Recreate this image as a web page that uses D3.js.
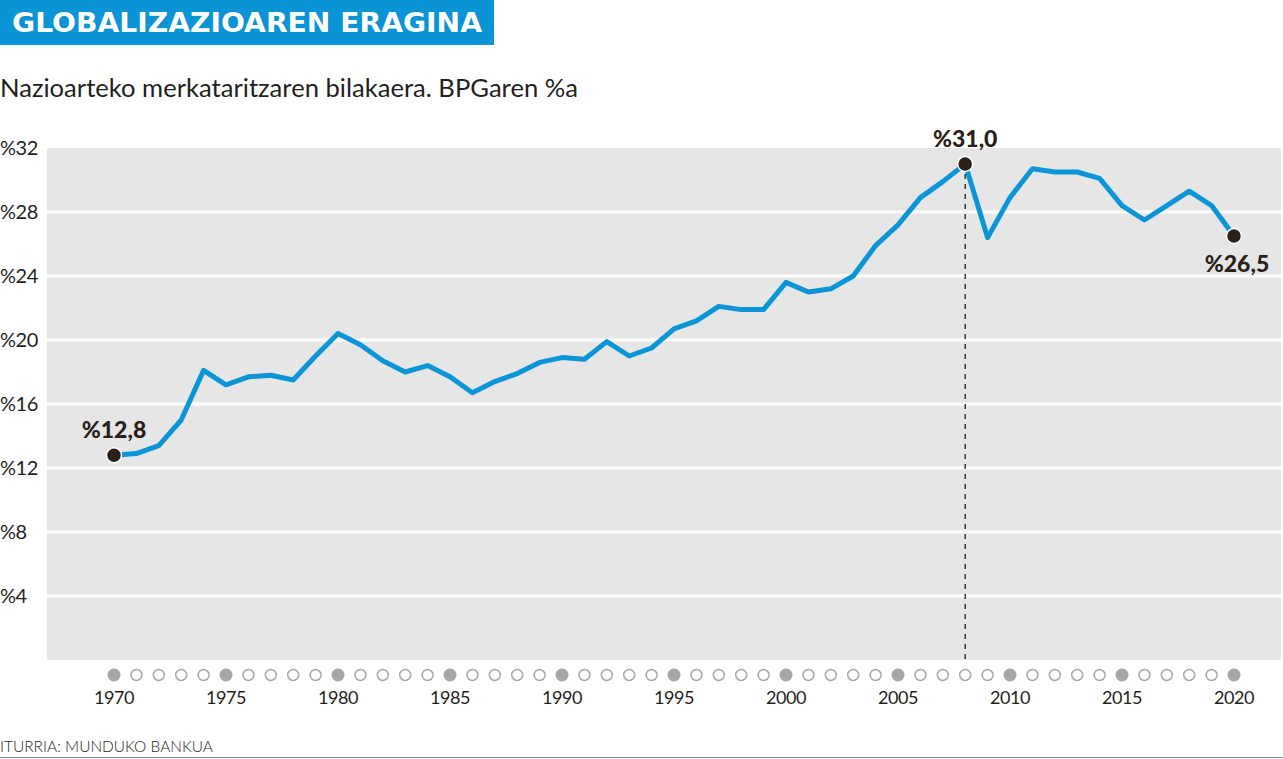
<!DOCTYPE html>
<html>
<head>
<meta charset="utf-8">
<script src="https://cdn.jsdelivr.net/npm/d3@7"></script>
<style>
  body { margin: 0; background: #fff; }
  svg { display: block; font-family: Lato, "Open Sans", sans-serif; }
</style>
</head>
<body>
<div class="canva"></div>
<script>
// data
const years = d3.range(1970, 2021);
const tradeShare = [
  12.8, 12.9, 13.4, 15.0, 18.1, 17.2, 17.7, 17.8, 17.5, 19.0,
  20.4, 19.7, 18.7, 18.0, 18.4, 17.7, 16.7, 17.4, 17.9, 18.6,
  18.9, 18.8, 19.9, 19.0, 19.5, 20.7, 21.2, 22.1, 21.9, 21.9,
  23.6, 23.0, 23.2, 24.0, 25.9, 27.2, 28.9, 29.9, 31.0, 26.4,
  28.9, 30.7, 30.5, 30.5, 30.1, 28.4, 27.5, 28.4, 29.3, 28.4,
  26.5
];
const yTicks = [4, 8, 12, 16, 20, 24, 28, 32];
const labelYears = [1970, 1975, 1980, 1985, 1990, 1995, 2000, 2005, 2010, 2015, 2020];
const highlights = [
  { year: 1970, label: '%12,8', pos: 'above' },
  { year: 2008, label: '%31,0', pos: 'above' },
  { year: 2020, label: '%26,5', pos: 'below' }
];

const width = 1283, height = 759;

const svg = d3.select('.canva').append('svg')
  .attr('width', width)
  .attr('height', height);

// header
svg.append('rect')
  .attr('x', 0).attr('y', 0)
  .attr('width', 494).attr('height', 45)
  .attr('fill', '#0a93d5');

svg.append('text')
  .attr('x', 12).attr('y', 32)
  .attr('fill', '#fff')
  .attr('font-family', '"DejaVu Sans", sans-serif')
  .attr('font-size', 26)
  .attr('font-weight', 700)
  .attr('textLength', 470)
  .attr('lengthAdjust', 'spacingAndGlyphs')
  .text('GLOBALIZAZIOAREN ERAGINA');

svg.append('text')
  .attr('x', 0).attr('y', 97)
  .attr('fill', '#231f20')
  .attr('font-size', 25)
  .attr('font-weight', 400)
  .attr('textLength', 578)
  .attr('lengthAdjust', 'spacingAndGlyphs')
  .text('Nazioarteko merkataritzaren bilakaera. BPGaren %a');

// plot area
const plot = { left: 47, right: 1281, top: 148, bottom: 660 };

const x = d3.scaleLinear()
  .domain([1970, 2020])
  .range([114, 1234]);

const y = d3.scaleLinear()
  .domain([0, 32])
  .range([plot.bottom, plot.top]);

svg.append('rect')
  .attr('x', plot.left).attr('y', plot.top)
  .attr('width', plot.right - plot.left)
  .attr('height', plot.bottom - plot.top)
  .attr('fill', '#e6e6e6');

const grid = svg.append('g');
grid.selectAll('line')
  .data(yTicks.filter(d => d < 32))
  .enter().append('line')
  .attr('x1', plot.left).attr('x2', plot.right)
  .attr('y1', d => y(d)).attr('y2', d => y(d))
  .attr('stroke', '#fff')
  .attr('stroke-width', 3);

// y labels
svg.append('g').selectAll('text')
  .data(yTicks)
  .enter().append('text')
  .attr('x', 0)
  .attr('y', d => y(d) + 7)
  .attr('fill', '#231f20')
  .attr('font-size', 20)
  .attr('font-weight', 400)
  .attr('letter-spacing', -0.5)
  .text(d => '%' + d);

// year dots
const dots = svg.append('g');
dots.selectAll('circle')
  .data(years)
  .enter().append('circle')
  .attr('cx', d => x(d))
  .attr('cy', 675)
  .attr('r', d => d % 5 === 0 ? 6.5 : 5.5)
  .attr('fill', d => d % 5 === 0 ? '#a9a5a4' : '#fff')
  .attr('stroke', '#a9a5a4')
  .attr('stroke-width', d => d % 5 === 0 ? 0 : 1.5);

svg.append('g').selectAll('text')
  .data(labelYears)
  .enter().append('text')
  .attr('x', d => x(d))
  .attr('y', 704)
  .attr('text-anchor', 'middle')
  .attr('fill', '#231f20')
  .attr('font-size', 18)
  .attr('font-weight', 400)
  .attr('letter-spacing', -0.5)
  .text(d => d);

// dashed marker at the peak
svg.append('line')
  .attr('x1', x(2008)).attr('x2', x(2008))
  .attr('y1', y(31.0)).attr('y2', plot.bottom)
  .attr('stroke', '#231f20')
  .attr('stroke-width', 1.3)
  .attr('stroke-dasharray', '5,5');

// the line
const line = d3.line()
  .x((d, i) => x(years[i]))
  .y(d => y(d));

svg.append('path')
  .datum(tradeShare)
  .attr('d', line)
  .attr('fill', 'none')
  .attr('stroke', '#0a96d6')
  .attr('stroke-width', 5)
  .attr('stroke-linejoin', 'round');

// highlighted points
const hl = svg.append('g');
hl.selectAll('circle')
  .data(highlights)
  .enter().append('circle')
  .attr('cx', d => x(d.year))
  .attr('cy', d => y(tradeShare[d.year - 1970]))
  .attr('r', 7.5)
  .attr('fill', '#2b1f1a')
  .attr('stroke', '#fff')
  .attr('stroke-width', 1.5);

hl.selectAll('text')
  .data(highlights)
  .enter().append('text')
  .attr('x', d => x(d.year) + (d.year === 2020 ? 3 : 0))
  .attr('y', d => y(tradeShare[d.year - 1970]) + (d.pos === 'above' ? -17 : 36))
  .attr('text-anchor', 'middle')
  .attr('fill', '#2b1f1a')
  .attr('font-size', 23)
  .attr('font-weight', 900)
  .text(d => d.label);

// source
svg.append('text')
  .attr('x', 0).attr('y', 752)
  .attr('fill', '#231f20')
  .attr('font-size', 16)
  .attr('font-weight', 300)
  .attr('textLength', 213)
  .attr('lengthAdjust', 'spacingAndGlyphs')
  .text('ITURRIA: MUNDUKO BANKUA');

svg.append('line')
  .attr('x1', 0).attr('x2', width)
  .attr('y1', 757.5).attr('y2', 757.5)
  .attr('stroke', '#8a8786')
  .attr('stroke-width', 1);
</script>
</body>
</html>
